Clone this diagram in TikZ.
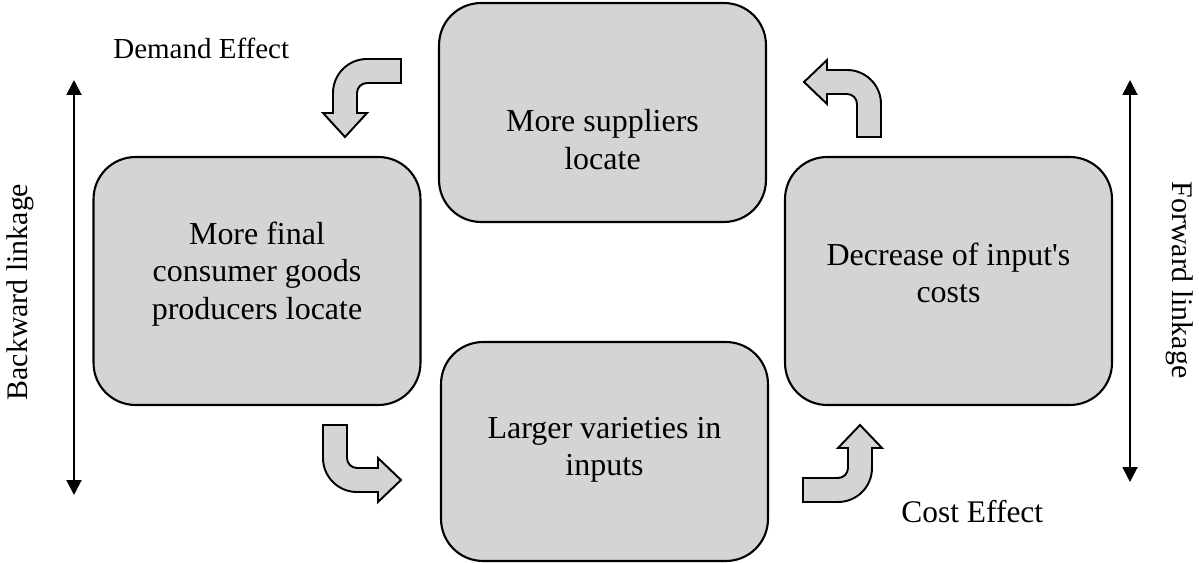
\documentclass[tikz,border=0pt]{standalone}
\usepackage{fontspec}
\setmainfont{Liberation Serif}
\usetikzlibrary{arrows.meta}

\begin{document}
\begin{tikzpicture}[
    x=0.02cm, y=-0.02cm,
    stage/.style={rectangle, rounded corners=0.84cm, draw, line width=1.2pt, fill=black!17,
                  minimum width=6.54cm, minimum height=#1},
    stage/.default=4.96cm,
    stagetext/.style={align=center, font=\fontsize{18.2}{21.3}\selectfont},
    bentarrow/.style={draw, line width=1.1pt, fill=black!17, line join=miter},
    link/.style={{Triangle[length=0.3cm,width=0.3cm]}-{Triangle[length=0.3cm,width=0.3cm]}, line width=1.1pt},
    effect/.style={font=\fontsize{#1}{#1}\selectfont, inner sep=0pt},
]
    \useasboundingbox (0,0) rectangle (1199,563);

    \node[stage=4.38cm] (sup) at (602.5,112.5) {};
    \node[stage] (fin) at (257,281) {};
    \node[stage] (dec) at (948.5,281) {};
    \node[stage=4.38cm] (var) at (604.5,451.5) {};

    \node[stagetext] (suptext) at (602.5,139.5) {More suppliers\\locate};
    \node[stagetext] (fintext) at (257,274) {More final\\consumer goods\\producers locate};
    \node[stagetext] (dectext) at (948.5,273) {Decrease of input\textquotesingle s\\costs};
    \node[stagetext] (vartext) at (604.5,450) {Larger varieties in\\inputs};

    \node[effect=16.5, anchor=base west] (demand) at (113,59) {Demand Effect};
    \node[effect=17.9, anchor=base west] (cost) at (901,522) {Cost Effect};

    % linkage arrows at the sides
    \coordinate (bwtop) at (74,80);
    \coordinate (bwbot) at (74,495);
    \coordinate (fwtop) at (1130,80);
    \coordinate (fwbot) at (1130,482);
    \draw[link] (bwtop) -- (bwbot);
    \draw[link] (fwtop) -- (fwbot);
    \node[effect=17, rotate=90] (backward) at (20,292) {Backward linkage};
    \node[effect=17, rotate=-90] (forward) at (1180,280) {Forward linkage};

    % bent block arrows
    \draw[bentarrow] (401,59) -- (367,59) .. controls (348.2,59) and (333,74.2) .. (333,93)
        -- (333,113) -- (323,113) -- (345,137) -- (367,113) -- (357,113) -- (357,93)
        .. controls (357,87.5) and (361.5,83) .. (367,83) -- (401,83) -- cycle;
    \draw[bentarrow] (857,137) -- (881,137) -- (881,104) .. controls (881,85.2) and (865.8,70) .. (847,70)
        -- (827,70) -- (827,60) -- (804,82) -- (827,104) -- (827,94) -- (847,94)
        .. controls (852.5,94) and (857,98.5) .. (857,104) -- cycle;
    \draw[bentarrow] (323,425) -- (323,458) .. controls (323,476.8) and (338.2,492) .. (357,492)
        -- (378,492) -- (378,502) -- (401,480) -- (378,458) -- (378,468) -- (357,468)
        .. controls (351.5,468) and (347,463.5) .. (347,458) -- (347,425) -- cycle;
    \draw[bentarrow] (803,478) -- (838,478) .. controls (843.5,478) and (848,473.5) .. (848,468)
        -- (848,448) -- (838,448) -- (860,425) -- (882,448) -- (872,448) -- (872,468)
        .. controls (872,486.8) and (856.8,502) .. (838,502) -- (803,502) -- cycle;
\end{tikzpicture}
\end{document}
